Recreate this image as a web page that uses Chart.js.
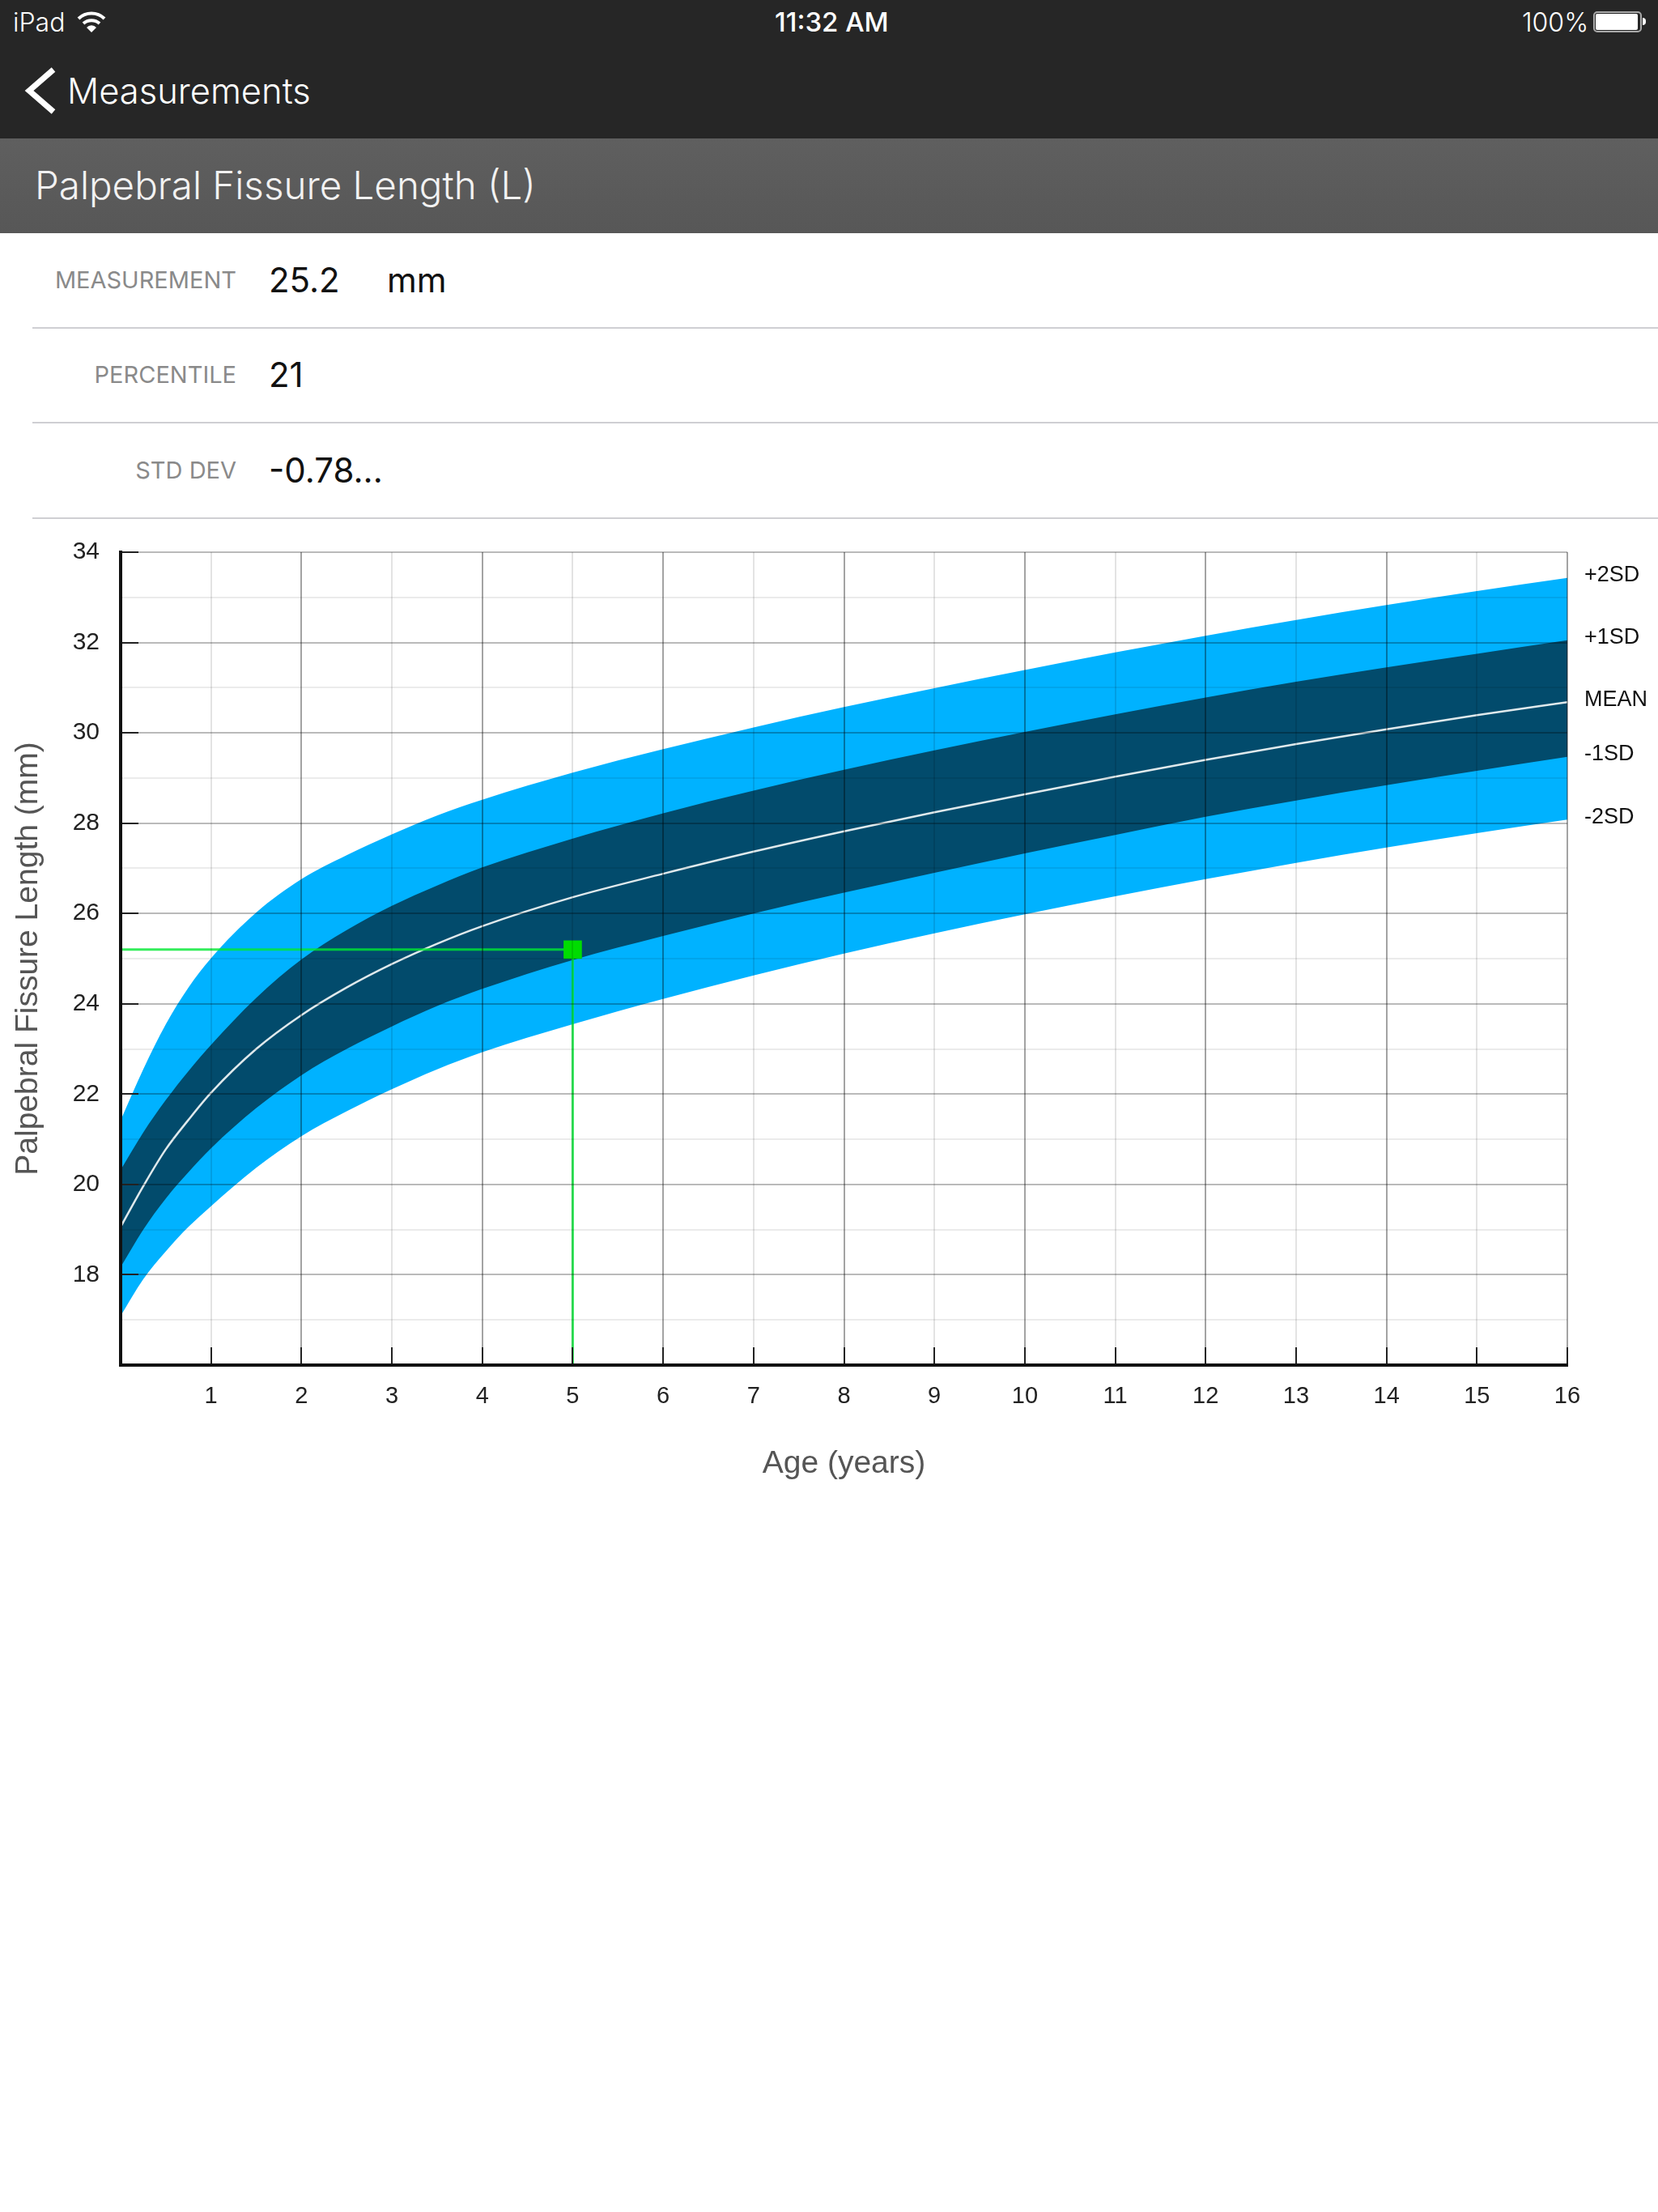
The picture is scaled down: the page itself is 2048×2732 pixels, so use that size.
<!DOCTYPE html>
<html>
<head>
<meta charset="utf-8">
<title>Palpebral Fissure Length (L)</title>
<script src="https://cdn.jsdelivr.net/npm/chart.js@4"></script>
<style>
  html, body { margin: 0; padding: 0; background: #fff; }
  body { position: relative; width: 2048px; height: 2732px; overflow: hidden; font-family: Inter, "Liberation Sans", sans-serif; }
  .abs { position: absolute; white-space: nowrap; line-height: 1; }
  #nav { position: absolute; left: 0; top: 0; width: 2048px; height: 171px; background: #262626; }
  #band { position: absolute; left: 0; top: 171px; width: 2048px; height: 117px; background: linear-gradient(#5f5f5f, #575757); }
  .rule { position: absolute; left: 40px; right: 0; height: 2px; background: #cfcfd3; }
  .key { position: absolute; right: 1756px; color: #8a8a8a; font-size: 29px; white-space: nowrap; line-height: 1; }
  .val { position: absolute; left: 332px; color: #111; font-size: 42px; white-space: nowrap; line-height: 1; }
  #growth { position: absolute; left: 0; top: 616px; }
</style>
</head>
<body>
<div id="nav"></div>
<div id="band"></div>

<div class="abs" style="left:16px;top:12px;color:#fff;font-size:32px;font-weight:300;">iPad</div>
<svg class="abs" style="left:95px;top:14px;" width="36" height="28" viewBox="0 0 36 28" fill="none" stroke="#fff" stroke-width="4">
  <path d="M2 9 A23 23 0 0 1 34 9"/>
  <path d="M8 15 A15 15 0 0 1 28 15"/>
  <path d="M18 26 L12 20 A8 8 0 0 1 24 20 Z" fill="#fff" stroke="none"/>
</svg>
<div class="abs" style="left:957px;top:11px;color:#fff;font-size:33px;font-weight:500;">11:32 AM</div>
<div class="abs" style="left:1880px;top:12px;color:#fff;font-size:32px;font-weight:300;">100%</div>
<div class="abs" style="left:1968px;top:14px;width:56px;height:22px;border:2px solid #aaa;border-radius:5px;box-sizing:content-box;"></div>
<div class="abs" style="left:1971px;top:17px;width:52px;height:20px;background:#fff;border-radius:2px;"></div>
<div class="abs" style="left:2029px;top:22px;width:4px;height:9px;background:#fff;border-radius:0 4px 4px 0;"></div>

<svg class="abs" style="left:28px;top:80px;" width="46" height="64" viewBox="0 0 46 64" fill="none" stroke="#fff" stroke-width="7">
  <path d="M38 6 L8 32 L38 58"/>
</svg>
<div class="abs" style="left:83px;top:91px;color:#fff;font-size:43.5px;font-weight:300;">Measurements</div>
<div class="abs" style="left:43px;top:205px;color:#f2f2f2;font-size:47.5px;font-weight:300;">Palpebral Fissure Length (L)</div>

<div class="key" style="top:331px;">MEASUREMENT</div>
<div class="val" style="top:325px;">25.2</div>
<div class="val" style="top:325px;left:478px;">mm</div>
<div class="rule" style="top:404px;"></div>
<div class="key" style="top:448px;">PERCENTILE</div>
<div class="val" style="top:442px;">21</div>
<div class="rule" style="top:521px;"></div>
<div class="key" style="top:566px;">STD DEV</div>
<div class="val" style="top:560px;">-0.78...</div>
<div class="rule" style="top:639px;"></div>

<canvas id="growth" width="2048" height="1216"></canvas>

<script>
// age in years, with closer steps where the curves bend hardest
const ages = [0, 0.25, 0.5, 0.75, 1, 1.5, 2, 2.5, 3, 3.5, 4, 5, 6, 7, 8, 9, 10, 11, 12, 13, 14, 15, 16];

const plus2sd = [21.42, 22.55, 23.55, 24.36, 25.01, 26.02, 26.76, 27.29, 27.75, 28.17, 28.52, 29.12, 29.64, 30.12, 30.57, 30.99, 31.39, 31.78, 32.15, 32.5, 32.83, 33.14, 33.43];
const plus1sd = [20.32, 21.15, 21.87, 22.51, 23.09, 24.13, 24.98, 25.63, 26.17, 26.62, 27.02, 27.66, 28.22, 28.72, 29.18, 29.61, 30.02, 30.41, 30.78, 31.13, 31.45, 31.75, 32.05];
const meanLine = [19.06, 19.96, 20.78, 21.43, 22.03, 23.0, 23.75, 24.36, 24.88, 25.33, 25.72, 26.36, 26.88, 27.37, 27.82, 28.24, 28.64, 29.03, 29.4, 29.75, 30.08, 30.39, 30.68];
const minus1sd = [18.17, 19.0, 19.69, 20.27, 20.8, 21.69, 22.42, 23.0, 23.5, 23.95, 24.33, 24.97, 25.5, 26.0, 26.46, 26.9, 27.33, 27.74, 28.14, 28.5, 28.84, 29.16, 29.47];
const minus2sd = [17.09, 17.9, 18.52, 19.06, 19.52, 20.37, 21.07, 21.62, 22.11, 22.55, 22.93, 23.55, 24.11, 24.63, 25.11, 25.56, 25.98, 26.38, 26.76, 27.12, 27.46, 27.78, 28.08];

const sdLabels = ["+2SD", "+1SD", "MEAN", "-1SD", "-2SD"];

// the patient's reading and the lines dropped from it to the axes
const patientAge = 5;
const patientValue = 25.2;
const guideAges = [0, patientAge, patientAge];
const guideValues = [patientValue, patientValue, 16];

const curve = (values) => values.map((v, i) => ({ x: ages[i], y: v }));
const sdEnds = [plus2sd, plus1sd, meanLine, minus1sd, minus2sd].map((s) => s[s.length - 1]);

const LIGHT_BLUE = "#00b2ff";
const DARK_BLUE = "#024b6c";

Chart.defaults.font.family = '"Liberation Sans", Arial, sans-serif';
Chart.defaults.color = "#222";

new Chart(document.getElementById("growth"), {
    type: "line",
    data: {
        datasets: [
            {
                // marker
                data: [{ x: patientAge, y: patientValue }],
                pointStyle: "rect",
                pointRadius: 16,
                pointBackgroundColor: "#00dc00",
                pointBorderWidth: 0,
                showLine: false
            },
            {
                data: guideAges.map((a, i) => ({ x: a, y: guideValues[i] })),
                borderColor: "rgba(0,232,50,0.8)",
                borderWidth: 3,
                pointRadius: 0,
                tension: 0
            },
            {
                data: curve(meanLine),
                borderColor: "#dfe9ec",
                borderWidth: 2.5,
                pointRadius: 0,
                cubicInterpolationMode: "monotone"
            },
            {
                data: curve(plus1sd),
                borderWidth: 0,
                pointRadius: 0,
                backgroundColor: DARK_BLUE,
                fill: "+1",
                cubicInterpolationMode: "monotone"
            },
            {
                data: curve(minus1sd),
                borderWidth: 0,
                pointRadius: 0,
                cubicInterpolationMode: "monotone"
            },
            {
                data: curve(plus2sd),
                borderWidth: 0,
                pointRadius: 0,
                backgroundColor: LIGHT_BLUE,
                fill: "+1",
                cubicInterpolationMode: "monotone"
            },
            {
                data: curve(minus2sd),
                borderWidth: 0,
                pointRadius: 0,
                cubicInterpolationMode: "monotone"
            }
        ]
    },
    options: {
        responsive: false,
        animation: false,
        events: [],
        layout: { padding: { left: 12, top: 31, right: 0, bottom: 0 } },
        plugins: { legend: { display: false }, tooltip: { enabled: false } },
        scales: {
            x: {
                type: "linear",
                min: 0,
                max: 16,
                afterFit: (scale) => { scale.height = 146; },
                title: {
                    display: true,
                    text: "Age (years)",
                    color: "#555",
                    font: { size: 39 },
                    padding: 0
                },
                border: { color: "#111", width: 4, z: 2 },
                grid: {
                    z: 1,
                    tickLength: -22,
                    tickWidth: 2,
                    tickColor: (c) => (c.tick.value === 0 ? "transparent" : "#222"),
                    lineWidth: 2,
                    color: (c) => {
                        if (c.tick.value === 0) return "transparent";
                        return c.tick.value % 2 === 0 ? "rgba(0,0,0,0.36)" : "rgba(0,0,0,0.11)";
                    }
                },
                ticks: {
                    stepSize: 1,
                    autoSkip: false,
                    maxRotation: 0,
                    padding: 44,
                    font: { size: 29 },
                    color: "#222",
                    callback: (v) => (v === 0 ? "" : String(v))
                }
            },
            y: {
                type: "linear",
                min: 16,
                max: 34,
                afterFit: (scale) => { scale.width = 137; },
                title: {
                    display: true,
                    text: "Palpebral Fissure Length (mm)",
                    color: "#555",
                    font: { size: 39 },
                    padding: 0
                },
                border: { color: "#111", width: 4, z: 2 },
                grid: {
                    z: 1,
                    tickLength: -22,
                    tickWidth: 2,
                    tickColor: (c) => (c.tick.value % 2 === 0 && c.tick.value !== 16 ? "#222" : "transparent"),
                    lineWidth: 2,
                    color: (c) => {
                        if (c.tick.value === 16) return "transparent";
                        return c.tick.value % 2 === 0 ? "rgba(0,0,0,0.27)" : "rgba(0,0,0,0.08)";
                    }
                },
                ticks: {
                    stepSize: 1,
                    autoSkip: false,
                    padding: 48,
                    font: { size: 30 },
                    color: "#222",
                    callback: (v) => (v % 2 === 0 && v !== 16 ? String(v) : "")
                }
            },
            // band names sit on a second axis, at the value each curve ends on
            sd: {
                type: "linear",
                position: "right",
                min: 16,
                max: 34,
                afterBuildTicks: (scale) => { scale.ticks = sdEnds.map((value) => ({ value })); },
                afterFit: (scale) => { scale.width = 112; },
                border: { display: false },
                grid: { display: false, drawTicks: false },
                ticks: {
                    autoSkip: false,
                    padding: 21,
                    labelOffset: -3,
                    font: { size: 27 },
                    color: "#111",
                    callback: (v, i) => sdLabels[i]
                }
            }
        }
    }
});
</script>
</body>
</html>
